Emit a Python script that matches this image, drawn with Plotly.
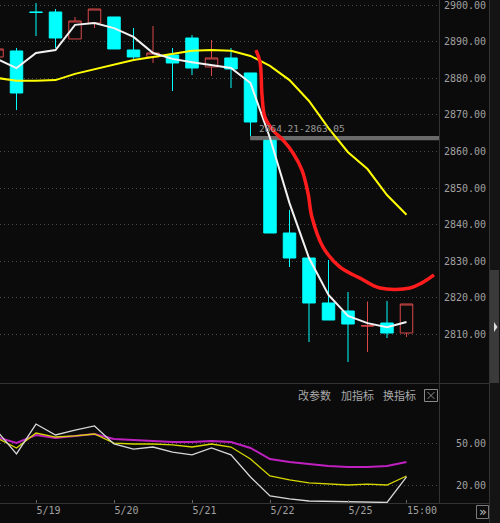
import plotly.graph_objects as go

# ---------------- data ----------------
candle_idx = list(range(22))
opens  = [2885.82, 2887.46, 2898.11, 2898.11, 2890.74, 2895.11, 2896.75, 2887.73, 2885.82, 2886.37, 2891.01,
          2883.09, 2885.55, 2881.45, 2863.05, 2837.73, 2830.90, 2818.61, 2816.42, 2812.30, 2813.14, 2810.41]
highs  = [2888.30, 2888.28, 2900.57, 2898.93, 2896.75, 2898.93, 2896.75, 2893.74, 2894.29, 2888.28, 2891.83,
          2890.46, 2888.28, 2881.45, 2863.05, 2844.02, 2830.90, 2830.36, 2821.61, 2819.00, 2819.15, 2818.33]
lows   = [2885.60, 2871.34, 2891.56, 2888.28, 2890.74, 2893.74, 2888.01, 2885.30, 2884.18, 2876.53, 2880.90,
          2880.63, 2877.35, 2864.21, 2837.73, 2828.44, 2807.95, 2813.96, 2802.49, 2805.22, 2809.04, 2809.32]
closes = [2888.01, 2875.98, 2898.00, 2891.01, 2895.66, 2898.93, 2888.01, 2885.82, 2886.91, 2884.18, 2882.81,
          2885.55, 2882.54, 2868.06, 2837.73, 2830.90, 2818.61, 2813.96, 2812.87, 2812.40, 2810.41, 2818.33]

ma_white  = [2885.3, 2882.8, 2886.9, 2887.7, 2894.6, 2895.1, 2893.7, 2891.3, 2886.9, 2885.3, 2884.4,
             2883.6, 2882.8, 2878.7, 2863.7, 2845.9, 2830.9, 2820.8, 2815.1, 2813.1, 2812.0, 2813.4]
ma_yellow = [2880.1, 2879.3, 2879.3, 2879.5, 2881.2, 2882.5, 2883.9, 2885.0, 2885.8, 2886.6, 2887.5,
             2887.7, 2887.5, 2886.1, 2883.4, 2879.5, 2873.8, 2866.4, 2859.8, 2855.2, 2848.1, 2842.7]
red_x = [13.28, 13.49, 13.59, 13.74, 14.15, 14.67, 15.18, 15.64, 15.95, 16.15, 16.72, 17.59, 18.62, 19.64, 21.18, 21.79, 22.41]
red_y = [2887.7, 2884.4, 2875.4, 2869.4, 2865.8, 2863.1, 2859.6, 2854.9, 2848.6, 2842.1, 2833.9, 2828.4,
         2825.4, 2822.7, 2822.7, 2824.1, 2826.3]

ind_white   = [59.5, 42.7, 64.6, 56.6, 60.2, 63.2, 50.0, 46.3, 47.8, 44.1, 42.0, 47.1, 42.0, 25.9, 12.0, 9.8,
               8.3, 7.9, 7.6, 7.4, 7.2, 25.9]
ind_yellow  = [54.4, 47.1, 58.0, 55.1, 55.9, 57.3, 50.7, 50.0, 50.0, 49.3, 47.8, 50.0, 47.8, 39.0, 26.6, 23.7,
               21.5, 20.7, 20.0, 20.7, 20.0, 26.6]
ind_magenta = [55.1, 50.7, 56.6, 54.4, 55.9, 57.3, 53.7, 52.9, 52.2, 51.5, 51.5, 52.2, 51.5, 47.1, 39.0, 36.8,
               35.4, 33.9, 33.2, 33.2, 33.9, 36.8]

price_ticks = [2810, 2820, 2830, 2840, 2850, 2860, 2870, 2880, 2890, 2900]
ind_ticks = [20, 50]
date_tick_idx = [2, 6, 10, 14, 18, 21]
date_tick_text = ["5/19", "5/20", "5/21", "5/22", "5/25", "15:00"]
gap_hi, gap_lo = 2864.21, 2863.05
gap_label = "2864.21-2863.05"
menu_items = ["改参数", "加指标", "换指标"]

# ---------------- layout helpers ----------------
W, H = 500, 523
ML, MR, MT, MB = 0, 61, 0, 20
PW, PH = W - ML - MR, H - MT - MB


def pxx(x):
    return (x - ML) / PW


def pyy(y):
    return (PH - (y - MT)) / PH


SPLIT = 383
BG = "#0b0b0b"
GRID = "#4a4a4a"
AXC = "#333333"
TXT = "#a0a0a0"
MONO = "DejaVu Sans Mono"
CYAN = "#00ffff"
RED_C = "#d84848"

fig = go.Figure()

fig.add_trace(go.Candlestick(
    x=candle_idx, open=opens, high=highs, low=lows, close=closes,
    increasing=dict(line=dict(color=RED_C, width=1), fillcolor="rgba(0,0,0,0)"),
    decreasing=dict(line=dict(color=CYAN, width=1), fillcolor=CYAN),
    whiskerwidth=0, xaxis="x", yaxis="y", hoverinfo="skip", showlegend=False))

fig.add_trace(go.Scatter(x=candle_idx, y=ma_yellow, mode="lines",
                         line=dict(color="#ffff00", width=2), xaxis="x", yaxis="y", showlegend=False))
fig.add_trace(go.Scatter(x=candle_idx, y=ma_white, mode="lines",
                         line=dict(color="#f2f2f2", width=2), xaxis="x", yaxis="y", showlegend=False))
fig.add_trace(go.Scatter(x=red_x, y=red_y, mode="lines", line_shape="spline",
                         line=dict(color="#ff1c1c", width=3.5), xaxis="x", yaxis="y", showlegend=False))

fig.add_trace(go.Scatter(x=candle_idx, y=ind_magenta, mode="lines",
                         line=dict(color="#c020c0", width=2), xaxis="x2", yaxis="y2", showlegend=False))
fig.add_trace(go.Scatter(x=candle_idx, y=ind_yellow, mode="lines",
                         line=dict(color="#d6d600", width=1.3), xaxis="x2", yaxis="y2", showlegend=False))
fig.add_trace(go.Scatter(x=candle_idx, y=ind_white, mode="lines",
                         line=dict(color="#d8d8d8", width=1.3), xaxis="x2", yaxis="y2", showlegend=False))

xr = [(0 + 3) / 19.5, (PW + 3) / 19.5]
main_bottom = pyy(SPLIT)

fig.update_layout(
    width=W, height=H, margin=dict(l=ML, r=MR, t=MT, b=MB),
    paper_bgcolor=BG, plot_bgcolor=BG, showlegend=False, boxgap=0.36, boxgroupgap=0,
    xaxis=dict(domain=[0, 1], range=xr, anchor="y", showticklabels=False, showgrid=False,
               zeroline=False, rangeslider=dict(visible=False), fixedrange=True),
    xaxis2=dict(domain=[0, 1], range=xr, anchor="y2", showgrid=False, zeroline=False,
                tickmode="array", tickvals=date_tick_idx, ticktext=date_tick_text,
                ticks="inside", ticklen=3, tickcolor="#666666",
                ticklabelposition="outside right",
                tickfont=dict(family=MONO, size=10, color=TXT)),
    yaxis=dict(domain=[main_bottom, 1], range=[2796.75, 2901.39], side="right", anchor="x",
               tickmode="array", tickvals=price_ticks, ticktext=[f"{v:.2f}" for v in price_ticks],
               tickfont=dict(family=MONO, size=10, color=TXT), ticklabelstandoff=4,
               ticklabeloverflow="allow",
               showgrid=True, gridcolor=GRID, griddash="1px,3px", gridwidth=1, zeroline=False),
    yaxis2=dict(domain=[0, main_bottom], range=[6.83, 94.62], side="right", anchor="x2",
                tickmode="array", tickvals=ind_ticks, ticktext=[f"{v:.2f}" for v in ind_ticks],
                tickfont=dict(family=MONO, size=10, color=TXT), ticklabelstandoff=16,
                showgrid=True, gridcolor=GRID, griddash="1px,3px", gridwidth=1, zeroline=False),
)

shapes = []
# gap band
shapes.append(dict(type="rect", xref="x", yref="y", x0=12.98, x1=xr[1], y0=gap_lo, y1=gap_hi,
                   fillcolor="#6a6a6a", line=dict(width=0), layer="below"))
# frame lines
shapes.append(dict(type="line", xref="paper", yref="paper", x0=pxx(439.5), x1=pxx(439.5), y0=pyy(0), y1=pyy(503),
                   line=dict(color=AXC, width=1)))
shapes.append(dict(type="line", xref="paper", yref="paper", x0=pxx(489.5), x1=pxx(489.5), y0=pyy(0), y1=pyy(523),
                   line=dict(color=AXC, width=1)))
shapes.append(dict(type="line", xref="paper", yref="paper", x0=pxx(0), x1=pxx(500), y0=pyy(383.5), y1=pyy(383.5),
                   line=dict(color=AXC, width=1)))
shapes.append(dict(type="line", xref="paper", yref="paper", x0=pxx(0), x1=pxx(489), y0=pyy(503.5), y1=pyy(503.5),
                   line=dict(color=AXC, width=1)))
# scrollbar column
shapes.append(dict(type="rect", xref="paper", yref="paper", x0=pxx(490), x1=pxx(500), y0=pyy(0), y1=pyy(523),
                   fillcolor="#141414", line=dict(width=0)))
shapes.append(dict(type="rect", xref="paper", yref="paper", x0=pxx(490), x1=pxx(499), y0=pyy(270), y1=pyy(383),
                   fillcolor="#3a3a3a", line=dict(width=0)))
shapes.append(dict(type="path", xref="paper", yref="paper",
                   path=f"M {pxx(494)} {pyy(322)} L {pxx(497.5)} {pyy(327)} L {pxx(494)} {pyy(332)} Z",
                   fillcolor="#dddddd", line=dict(width=0)))
# close box
shapes.append(dict(type="rect", xref="paper", yref="paper", x0=pxx(424.5), x1=pxx(437.5), y0=pyy(389.5), y1=pyy(401.5),
                   line=dict(color="#8a8a8a", width=1)))
shapes.append(dict(type="line", xref="paper", yref="paper", x0=pxx(427.5), x1=pxx(434.5), y0=pyy(392), y1=pyy(399),
                   line=dict(color="#8a8a8a", width=1)))
shapes.append(dict(type="line", xref="paper", yref="paper", x0=pxx(434.5), x1=pxx(427.5), y0=pyy(392), y1=pyy(399),
                   line=dict(color="#8a8a8a", width=1)))
# >> button box
shapes.append(dict(type="rect", xref="paper", yref="paper", x0=pxx(476.5), x1=pxx(488.5), y0=pyy(505.5), y1=pyy(518.5),
                   line=dict(color="#7a7a7a", width=1)))
fig.update_layout(shapes=shapes)

annotations = []
annotations.append(dict(x=13.33, y=2866.15, xref="x", yref="y", text=gap_label, showarrow=False,
                        xanchor="left", yanchor="middle", font=dict(family=MONO, size=9.5, color="#9a9a9a")))
for cx, t in zip([314, 357, 399], menu_items):
    annotations.append(dict(x=pxx(cx), y=pyy(395), xref="paper", yref="paper", text=t, showarrow=False,
                            xanchor="center", yanchor="middle",
                            font=dict(family="Noto Sans CJK SC", size=11, color="#a8a8a8")))
annotations.append(dict(x=pxx(482.5), y=pyy(512), xref="paper", yref="paper", text="»", showarrow=False,
                        xanchor="center", yanchor="middle", font=dict(family="DejaVu Sans", size=13, color="#bbbbbb")))
fig.update_layout(annotations=annotations)

fig.write_html("out.html", config={"displayModeBar": False},
               post_script="document.body.style.margin='0px';document.body.style.background='#0b0b0b';")
